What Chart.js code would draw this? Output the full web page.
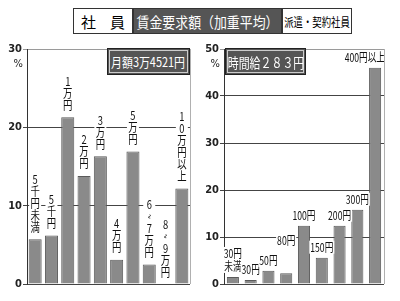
<!DOCTYPE html>
<html>
<head>
<meta charset="utf-8">
<script src="https://cdn.jsdelivr.net/npm/chart.js@4.4.1/dist/chart.umd.min.js"></script>
<style>
  html, body { margin: 0; padding: 0; background: #fff; }
  body { width: 400px; height: 301px; position: relative; overflow: hidden;
         font-family: "Noto Sans CJK JP", sans-serif; }
  .hdr { position: absolute; left: 73px; top: 8px; height: 26px; display: flex; }
  .hdr div, .inset { display: flex; justify-content: center; align-items: center;
             white-space: nowrap; overflow: hidden; }
  .hdr div { height: 24px; box-sizing: content-box; }
  .sq { display: inline-block; flex: none; transform-origin: center; }
  .h1 { width: 58px; border: 1px solid #333; font-size: 15px; }
  .h2 { width: 147px; border: 1px solid #333; background: #555; color: #fff; font-size: 15px; }
  .h3 { width: 68px; border: 1px solid #333; font-size: 12px; }
  .inset { position: absolute; top: 48px; height: 25px; background: #555;
           color: #fff; border: 1px solid #222; outline: 1px solid #ccc; outline-offset: -3px; }
  .pane { position: absolute; top: 40px; width: 200px; height: 261px; }
</style>
</head>
<body>
<div class="hdr">
  <div class="h1"><span class="sq" style="letter-spacing:14px;margin-right:-14px;">社員</span></div>
  <div class="h2"><span class="sq" style="transform:scaleX(0.86)">賃金要求額（加重平均）</span></div>
  <div class="h3"><span class="sq" style="transform:scaleX(0.78)">派遣・契約社員</span></div>
</div>

<canvas id="left" class="pane" style="left:0" width="200" height="261"></canvas>
<canvas id="right" class="pane" style="left:200px" width="200" height="261"></canvas>

<div class="inset" style="left:107px;width:81px;font-size:13px;"><span class="sq" style="transform:scaleX(0.84)">月額3万4521円</span></div>
<div class="inset" style="left:225px;width:79px;font-size:14px;"><span class="sq" style="transform:scaleX(0.78)">時間給２８３円</span></div>

<script>
// 社員（月額）
const monthlyCats = ['5千円未満', '5千円', '1万円', '2万円', '3万円', '4万円', '5万円', '6~7万円', '8~9万円', '10万円以上'];
const monthlyPct = [5.7, 6.2, 21.3, 13.8, 16.3, 3.1, 16.9, 2.5, 0, 12.2];
const monthlyTicks = [0, 10, 20, 30];

// 派遣・契約社員（時間給）
const hourlyCats = ['30円\n未満', '30円', '50円', '80円', '100円', '150円', '200円', '300円', '400円以上'];
const hourlyPct = [1.5, 0.85, 2.8, 2.3, 12.4, 5.6, 12.4, 15.8, 46.0];
const hourlyTicks = [0, 10, 20, 30, 40, 50];

const FONT = '"Noto Sans CJK JP", sans-serif';
const BAR = '#8a8a8a';

// percent sign under the top tick
const percentSign = {
    id: 'percentSign',
    afterDraw(chart) {
        const ctx = chart.ctx;
        const y = chart.scales.y;
        ctx.save();
        ctx.font = '11px "DejaVu Sans Condensed", sans-serif';
        ctx.fillStyle = '#222';
        ctx.textAlign = 'right';
        ctx.textBaseline = 'middle';
        ctx.fillText('%', chart.chartArea.left - 4, y.getPixelForValue(y.max) + 15);
        // light frame on the right
        ctx.strokeStyle = '#b0b0b0';
        ctx.lineWidth = 1;
        ctx.beginPath();
        ctx.moveTo(chart.chartArea.right + 0.5, chart.chartArea.top);
        ctx.lineTo(chart.chartArea.right + 0.5, chart.chartArea.bottom);
        ctx.stroke();
        ctx.restore();
    }
};

// stacked (tategaki) labels above the bars
const verticalLabels = {
    id: 'verticalLabels',
    afterDatasetsDraw(chart) {
        const ctx = chart.ctx;
        const pitch = 12;
        ctx.save();
        ctx.font = '12px ' + FONT;
        ctx.textAlign = 'center';
        ctx.textBaseline = 'middle';
        chart.getDatasetMeta(0).data.forEach((bar, i) => {
            const chars = Array.from(chart.data.labels[i]);
            const bottom = bar.y - 6;
            const top = bottom - chars.length * pitch;
            ctx.fillStyle = '#fff';
            ctx.fillRect(bar.x - 6, top, 12, bottom - top);
            ctx.fillStyle = '#111';
            chars.forEach((c, k) => {
                const cy = top + pitch * (k + 0.5);
                ctx.save();
                ctx.translate(bar.x, cy);
                if (c === '~') ctx.rotate(Math.PI / 2);
                ctx.scale(0.78, 1);
                ctx.fillText(c, 0, 0);
                ctx.restore();
            });
        });
        ctx.restore();
    }
};

// horizontal labels above the bars
const flatLabels = {
    id: 'flatLabels',
    afterDatasetsDraw(chart, args, opts) {
        const ctx = chart.ctx;
        const lh = 13;
        const lift = opts.lift || [];
        ctx.save();
        ctx.font = '12px ' + FONT;
        ctx.textAlign = 'center';
        ctx.textBaseline = 'middle';
        chart.getDatasetMeta(0).data.forEach((bar, i) => {
            const lines = chart.data.labels[i].split('\n');
            const bottom = bar.y - 4 - (lift[i] || 0);
            lines.forEach((t, k) => {
                const w = ctx.measureText(t).width * 0.72;
                let x = bar.x;
                if (x + w / 2 > chart.chartArea.right + 1) x = chart.chartArea.right + 1 - w / 2;
                const cy = bottom - lh * (lines.length - k - 0.5);
                ctx.fillStyle = '#fff';
                ctx.fillRect(x - w / 2 - 1, cy - lh / 2, w + 2, lh);
                ctx.fillStyle = '#111';
                ctx.save();
                ctx.translate(x, cy);
                ctx.scale(0.72, 1);
                ctx.fillText(t, 0, 0);
                ctx.restore();
            });
        });
        ctx.restore();
    }
};

function makeChart(id, cats, values, ticks, axisWidth, padRight, barPct, plugins, pluginOpts) {
    const top = ticks[ticks.length - 1];
    return new Chart(document.getElementById(id), {
        type: 'bar',
        data: {
            labels: cats,
            datasets: [{
                data: values,
                backgroundColor: BAR,
                borderColor: '#5a5a5a',
                borderWidth: 1,
                barPercentage: barPct,
                categoryPercentage: 1
            }]
        },
        options: {
            responsive: false,
            animation: false,
            layout: { padding: { top: 9, bottom: 17, left: 0, right: padRight } },
            plugins: Object.assign({ legend: { display: false }, tooltip: { enabled: false } }, pluginOpts),
            scales: {
                x: { display: false },
                y: {
                    min: 0,
                    max: top,
                    afterBuildTicks: s => { s.ticks = ticks.map(v => ({ value: v })); },
                    afterFit: s => { s.width = axisWidth; },
                    border: { display: true, color: '#333', width: 1 },
                    grid: {
                        color: c => c.tick && c.tick.value === top ? '#9a9a9a' : '#444',
                        lineWidth: 1,
                        tickLength: 4
                    },
                    ticks: {
                        padding: 1,
                        color: '#222',
                        font: { family: '"DejaVu Sans Condensed", sans-serif', size: 11, weight: 'bold' }
                    }
                }
            }
        },
        plugins: plugins
    });
}

makeChart('left', monthlyCats, monthlyPct, monthlyTicks, 27, 10, 0.8,
    [percentSign, verticalLabels], {});
makeChart('right', hourlyCats, hourlyPct, hourlyTicks, 24, 16, 0.68,
    [percentSign, flatLabels], { flatLabels: { lift: [0, 0, 0, 22, 0, 0, 0, 0, 0] } });
</script>
</body>
</html>
